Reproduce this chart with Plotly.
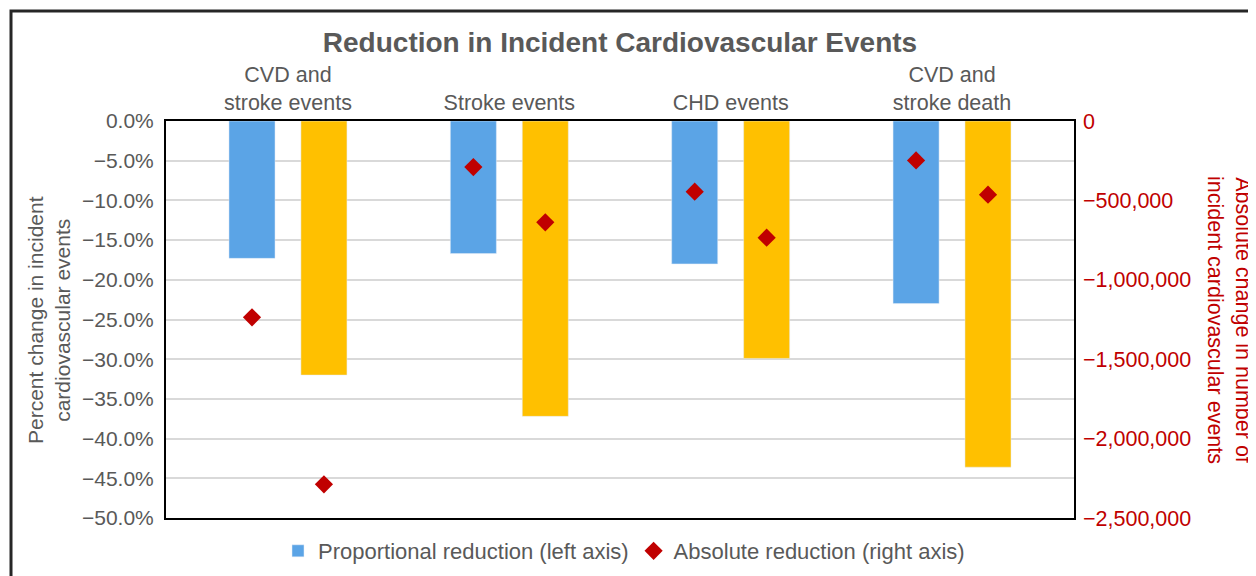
import plotly.graph_objects as go

# ---- data ----
categories = ["CVD and<br>stroke events", "Stroke events", "CHD events", "CVD and<br>stroke death"]
pct_blue = [-17.3, -16.7, -18.0, -23.0]        # proportional reduction, scenario 1 (left axis, %)
pct_yellow = [-32.0, -37.2, -29.9, -43.6]      # proportional reduction, scenario 2 (left axis, %)
abs_blue = [-1236000, -290000, -445000, -248000]    # absolute reduction, scenario 1 (right axis)
abs_yellow = [-2288000, -638000, -735000, -464000]  # absolute reduction, scenario 2 (right axis)

left_ticks = [0, -5, -10, -15, -20, -25, -30, -35, -40, -45, -50]
right_ticks = [0, -500000, -1000000, -1500000, -2000000, -2500000]

BLUE = "#5BA4E6"
YELLOW = "#FFC000"
RED = "#C00000"
GREY = "#595959"
FONT = "Liberation Sans, Arial, sans-serif"

left_text = [f"{v:.1f}%".replace("-", "\u2212") for v in left_ticks]
right_text = [f"{v:,d}".replace("-", "\u2212") for v in right_ticks]

fig = go.Figure()
fig.add_trace(go.Bar(x=categories, y=pct_blue, marker_color=BLUE, offsetgroup="a",
                     name="Proportional reduction (left axis)", showlegend=True))
fig.add_trace(go.Bar(x=categories, y=pct_yellow, marker_color=YELLOW, offsetgroup="b",
                     name="Proportional reduction 2", showlegend=False))
fig.add_trace(go.Scatter(x=categories, y=abs_blue, yaxis="y2", mode="markers", offsetgroup="a",
                         marker=dict(symbol="diamond", size=14, color=RED),
                         name="Absolute reduction (right axis)", legendgroup="abs", showlegend=True))
fig.add_trace(go.Scatter(x=categories, y=abs_yellow, yaxis="y2", mode="markers", offsetgroup="b",
                         marker=dict(symbol="diamond", size=14, color=RED),
                         name="Absolute reduction 2", legendgroup="abs", showlegend=False))

# page body has an 8px margin; figure is placed at (8, 8) in the window
OFF = 8
W, H = 1256 - OFF, 576 - OFF
PL, PR, PT, PB = 166, 1074, 121, 518   # plot area in window pixels
L, R, T, B = PL - OFF, W + OFF - PR, PT - OFF, H + OFF - PB
pw, ph = PR - PL, PB - PT


def px_x(x):
    return (x - PL) / pw


def px_y(y):
    return (PB - y) / ph


fig.update_layout(
    width=W, height=H,
    margin=dict(l=L, r=R, t=T, b=B, autoexpand=False),
    paper_bgcolor="white", plot_bgcolor="white",
    font=dict(family=FONT, color=GREY, size=20),
    barmode="group", bargap=0.35, bargroupgap=0.36,
    scattermode="group", scattergap=0.35,
    title=dict(text="<b>Reduction in Incident Cardiovascular Events</b>",
               x=0.5, xref="paper", xanchor="center", y=1 - (42 - OFF) / H, yanchor="middle",
               font=dict(size=28, color=GREY, family=FONT)),
    xaxis=dict(side="top", showline=True, linecolor="black", linewidth=2, mirror=True,
               ticks="", tickfont=dict(size=21.5, color=GREY), showgrid=False,
               range=[-0.551, 3.551]),
    yaxis=dict(range=[-50, 0], tickvals=left_ticks, ticktext=left_text,
               showline=True, linecolor="black", linewidth=2, mirror=True,
               gridcolor="#D9D9D9", gridwidth=2, zeroline=False,
               tickfont=dict(size=21, color=GREY), ticklabelstandoff=6),
    yaxis2=dict(range=[-2500000, 0], tickvals=right_ticks, ticktext=right_text,
                overlaying="y", side="right", showgrid=False, zeroline=False,
                tickfont=dict(size=21.5, color=RED), ticklabelstandoff=8),
    legend=dict(orientation="h", x=px_x(624), xanchor="center", y=px_y(551), yanchor="middle",
                font=dict(size=22, color=GREY), bgcolor="rgba(0,0,0,0)"),
    showlegend=True,
)

fig.add_annotation(text="Percent change in incident<br>cardiovascular events",
                   xref="paper", yref="paper", x=px_x(49), y=px_y(320),
                   xanchor="center", yanchor="middle", textangle=-90, showarrow=False,
                   font=dict(size=21, color=GREY))
fig.add_annotation(text="Absolute change in number of<br>incident cardiovascular events",
                   xref="paper", yref="paper", x=px_x(1229), y=px_y(320),
                   xanchor="center", yanchor="middle", textangle=90, showarrow=False,
                   font=dict(size=21.5, color=RED))

fig.add_shape(type="rect", xref="paper", yref="paper",
              x0=px_x(11), x1=px_x(1270), y0=px_y(600), y1=px_y(11),
              line=dict(color="#262626", width=3), fillcolor="rgba(0,0,0,0)", layer="below")

fig.write_html("out.html")
